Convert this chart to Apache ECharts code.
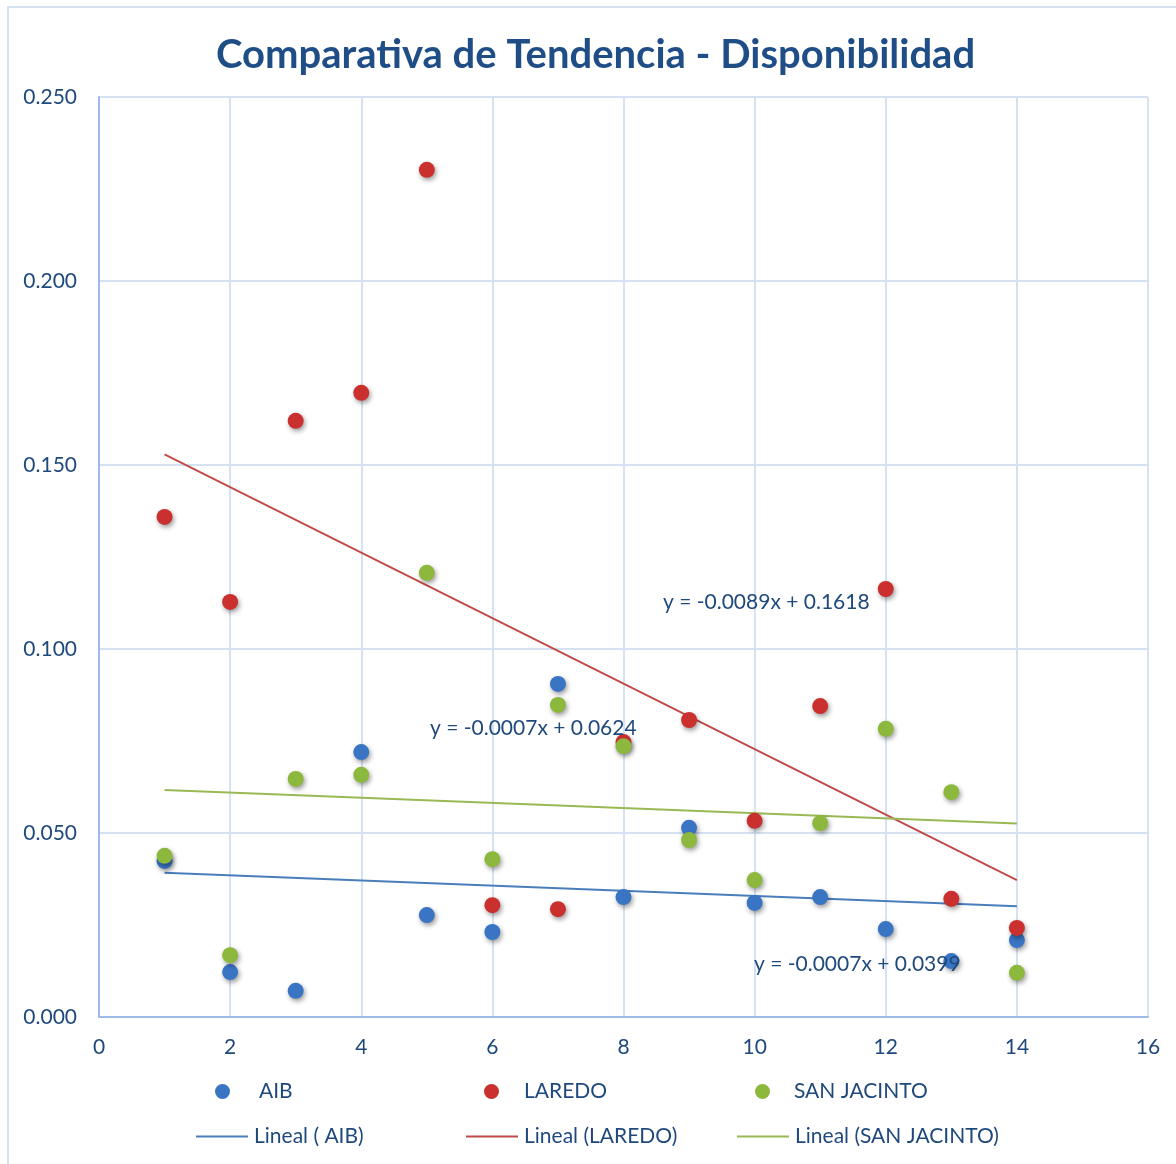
<!DOCTYPE html>
<html>
<head>
<meta charset="utf-8">
<script src="https://cdn.jsdelivr.net/npm/echarts@6/dist/echarts.min.js"></script>
<style>
  html, body { margin: 0; padding: 0; background: #ffffff; }
  #chart { width: 1176px; height: 1164px; }
</style>
</head>
<body>
<div id="chart"></div>
<script>
// Period index (1..14) shared by all three series
const periods = [1, 2, 3, 4, 5, 6, 7, 8, 9, 10, 11, 12, 13, 14];

// Availability values per site
const aibValues = [0.0424, 0.0122, 0.0071, 0.0720, 0.0277, 0.0231, 0.0905, 0.0326, 0.0514, 0.0310, 0.0326, 0.0239, 0.0152, 0.0209];
const laredoValues = [0.1359, 0.1128, 0.1620, 0.1696, 0.2302, 0.0304, 0.0293, 0.0747, 0.0807, 0.0533, 0.0845, 0.1163, 0.0321, 0.0242];
const sanJacintoValues = [0.0438, 0.0168, 0.0647, 0.0658, 0.1207, 0.0429, 0.0848, 0.0736, 0.0481, 0.0372, 0.0527, 0.0783, 0.0611, 0.0120];

// Linear trend coefficients (slope, intercept) as given by the fitted equations
const aibTrend = { slope: -0.0007, intercept: 0.0399 };
const laredoTrend = { slope: -0.0089, intercept: 0.1618 };
const sanJacintoTrend = { slope: -0.0007, intercept: 0.0624 };

// Axis ticks
const xTicks = { min: 0, max: 16, step: 2 };
const yTicks = { min: 0, max: 0.25, step: 0.05 };

const FONT = 'Lato, "Open Sans", sans-serif';
const TEXT = '#1F497D';

function points(values) {
  return periods.map((p, i) => [p, values[i]]);
}
function trendEnds(t) {
  const x0 = periods[0], x1 = periods[periods.length - 1];
  return [[x0, t.slope * x0 + t.intercept], [x1, t.slope * x1 + t.intercept]];
}
function eqText(t) {
  const s = t.slope < 0 ? '-' + Math.abs(t.slope).toFixed(4) : t.slope.toFixed(4);
  return 'y = ' + s + 'x + ' + t.intercept.toFixed(4);
}

const colors = { aib: '#3A75C4', laredo: '#C9302E', sj: '#8DB83E' };
const lineColors = { aib: '#4A7EBB', laredo: '#BE4B48', sj: '#98B954' };

function scatter(name, values, color) {
  return {
    name, type: 'scatter', data: points(values), symbol: 'circle', symbolSize: 16, z: 5,
    itemStyle: {
      color: color, opacity: 1,
      shadowBlur: 5, shadowOffsetX: 1.5, shadowOffsetY: 2.5, shadowColor: 'rgba(0,0,0,0.4)'
    }
  };
}
function trend(name, t, color) {
  return {
    name, type: 'line', data: trendEnds(t), symbol: 'none', showSymbol: false, z: 3,
    lineStyle: { color: color, width: 2 }, itemStyle: { color: color }
  };
}

// One legend block per entry so each can sit in its own column
function legendItem(name, left, top, isLine, textGap) {
  return {
    data: [name], left: left, top: top, orient: 'horizontal',
    icon: isLine ? 'rect' : 'circle',
    itemWidth: isLine ? 52 : 15, itemHeight: isLine ? 2 : 15,
    textStyle: { fontFamily: FONT, fontSize: 21, color: TEXT, padding: [0, 0, 0, textGap] },
    selectedMode: false
  };
}

const chart = echarts.init(document.getElementById('chart'), null, { renderer: 'canvas' });
chart.setOption({
  animation: false,
  backgroundColor: '#ffffff',
  title: {
    text: 'Comparativa de Tendencia - Disponibilidad',
    left: 211, top: 30,
    textStyle: { fontFamily: FONT, fontSize: 40, fontWeight: 'bold', color: '#1F4E87' }
  },
  grid: { left: 99, right: 28, top: 97, bottom: 147, containLabel: false },
  xAxis: {
    type: 'value', min: xTicks.min, max: xTicks.max, interval: xTicks.step,
    axisLine: { lineStyle: { color: '#9DBBE6', width: 2 } },
    axisTick: { show: false },
    splitLine: { lineStyle: { color: '#D5E2F4', width: 2 } },
    axisLabel: { fontFamily: FONT, fontSize: 21, color: TEXT, margin: 20 }
  },
  yAxis: {
    type: 'value', min: yTicks.min, max: yTicks.max, interval: yTicks.step,
    axisLine: { show: true, lineStyle: { color: '#9DBBE6', width: 2 } },
    axisTick: { show: false },
    splitLine: { lineStyle: { color: '#D5E2F4', width: 2 } },
    axisLabel: { fontFamily: FONT, fontSize: 21, color: TEXT, margin: 22, formatter: v => v.toFixed(3) }
  },
  legend: [
    legendItem('AIB', 210, 1076, false, 24),
    legendItem('LAREDO', 479, 1076, false, 20),
    legendItem('SAN JACINTO', 750, 1076, false, 19),
    legendItem('Lineal ( AIB)', 191, 1121, true, 1),
    legendItem('Lineal (LAREDO)', 461, 1121, true, 1),
    legendItem('Lineal (SAN JACINTO)', 732, 1121, true, 1)
  ],
  series: [
    trend('Lineal ( AIB)', aibTrend, lineColors.aib),
    trend('Lineal (LAREDO)', laredoTrend, lineColors.laredo),
    trend('Lineal (SAN JACINTO)', sanJacintoTrend, lineColors.sj),
    scatter('AIB', aibValues, colors.aib),
    scatter('LAREDO', laredoValues, colors.laredo),
    scatter('SAN JACINTO', sanJacintoValues, colors.sj)
  ],
  graphic: [
    { type: 'rect', silent: true, z: -10,
      shape: { x: 8, y: 7, width: 1200, height: 1200 },
      style: { fill: 'none', stroke: '#D5E2F4', lineWidth: 2 } },
    { type: 'text', left: 663, top: 592, z: 20,
      style: { text: eqText(laredoTrend), font: '21px ' + FONT, fill: TEXT } },
    { type: 'text', left: 430, top: 718, z: 20,
      style: { text: eqText(sanJacintoTrend), font: '21px ' + FONT, fill: TEXT } },
    { type: 'text', left: 754, top: 954, z: 20,
      style: { text: eqText(aibTrend), font: '21px ' + FONT, fill: TEXT } }
  ]
});
</script>
</body>
</html>
